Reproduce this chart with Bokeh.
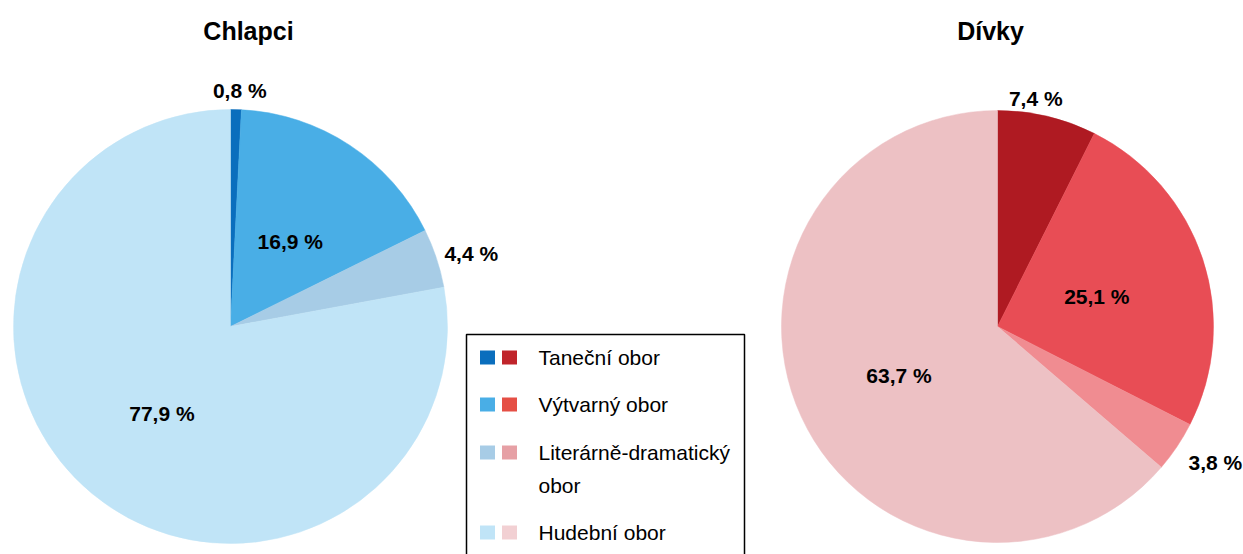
import math
from bokeh.plotting import figure
from bokeh.models import Range1d
from bokeh.core.properties import value
from bokeh.embed import file_html
from bokeh.resources import INLINE

# ---- data ----
categories = ["Taneční obor", "Výtvarný obor", "Literárně-dramatický obor", "Hudební obor"]
legend_labels = ["Taneční obor", "Výtvarný obor", "Literárně-dramatický\nobor", "Hudební obor"]
chlapci = [0.8, 16.9, 4.4, 77.9]
divky = [7.4, 25.1, 3.8, 63.7]
titles = ["Chlapci", "Dívky"]
blue_colors = ["#0A6EBD", "#49AEE6", "#A7CCE6", "#C0E4F7"]
red_colors = ["#AF1A22", "#E84D55", "#F08C91", "#EDC1C4"]
blue_legend = ["#0A6EBD", "#49AEE6", "#A7CCE6", "#C0E4F7"]
red_legend = ["#C0242B", "#E54F45", "#E6A0A5", "#F2D0D3"]

W, H = 1243, 554
p = figure(width=W, height=H, output_backend="svg", toolbar_location=None,
           x_range=Range1d(0, W), y_range=Range1d(0, H), min_border=0)
p.axis.visible = False
p.grid.visible = False
p.outline_line_color = None
p.background_fill_color = "white"

FONT = value("Liberation Sans")

def pie(cx, cy, r, vals, colors, title, tx, lab_fac, lab_dang):
    total = sum(vals)
    cum = 0.0
    for v, c, f, da in zip(vals, colors, lab_fac, lab_dang):
        a0 = math.pi / 2 - 2 * math.pi * cum / total
        a1 = math.pi / 2 - 2 * math.pi * (cum + v) / total
        p.wedge(x=[cx], y=[cy], radius=r, start_angle=[a0], end_angle=[a1],
                direction="clock", fill_color=c, line_color=c, line_width=0.5)
        mid = (a0 + a1) / 2 + math.radians(da)
        lx = cx + r * f * math.cos(mid)
        ly = cy + r * f * math.sin(mid)
        p.text(x=[lx], y=[ly], text=[f"{v:.1f} %".replace(".", ",")],
               text_font=FONT, text_font_style="bold", text_font_size="21px",
               text_align="center", text_baseline="middle", text_color="#000000")
        cum += v
    p.text(x=[tx], y=[H - 30], text=[title],
           text_font=FONT, text_font_style="bold", text_font_size="25px",
           text_align="center", text_baseline="middle", text_color="#000000")

pie(230, 228, 217, chlapci, blue_colors, titles[0], 248,
    [1.09, 0.48, 1.16, 0.51], [-0.8, -1.7, -1.4, 1.5])
pie(997, 228, 216, divky, red_colors, titles[1], 990,
    [1.07, 0.48, 1.19, 0.51], [3.8, -1.5, 1.8, 2.0])

# ---- legend box ----
p.quad(left=[466], right=[744], bottom=[-20], top=[220],
       fill_color="white", line_color="#000000", line_width=1.5)
row_y = [197, 150, 102, 22]
for i, lab in enumerate(legend_labels):
    y = row_y[i]
    p.rect(x=[487], y=[y], width=15, height=14, fill_color=blue_legend[i], line_color=None)
    p.rect(x=[509], y=[y], width=15, height=14, fill_color=red_legend[i], line_color=None)
    lines = lab.split("\n")
    for j, ln in enumerate(lines):
        p.text(x=[538], y=[y - 33 * j], text=[ln], text_font=FONT,
               text_font_size="21px", text_align="left", text_baseline="middle",
               text_color="#000000")

open("out.html", "w").write(file_html(p, INLINE))
